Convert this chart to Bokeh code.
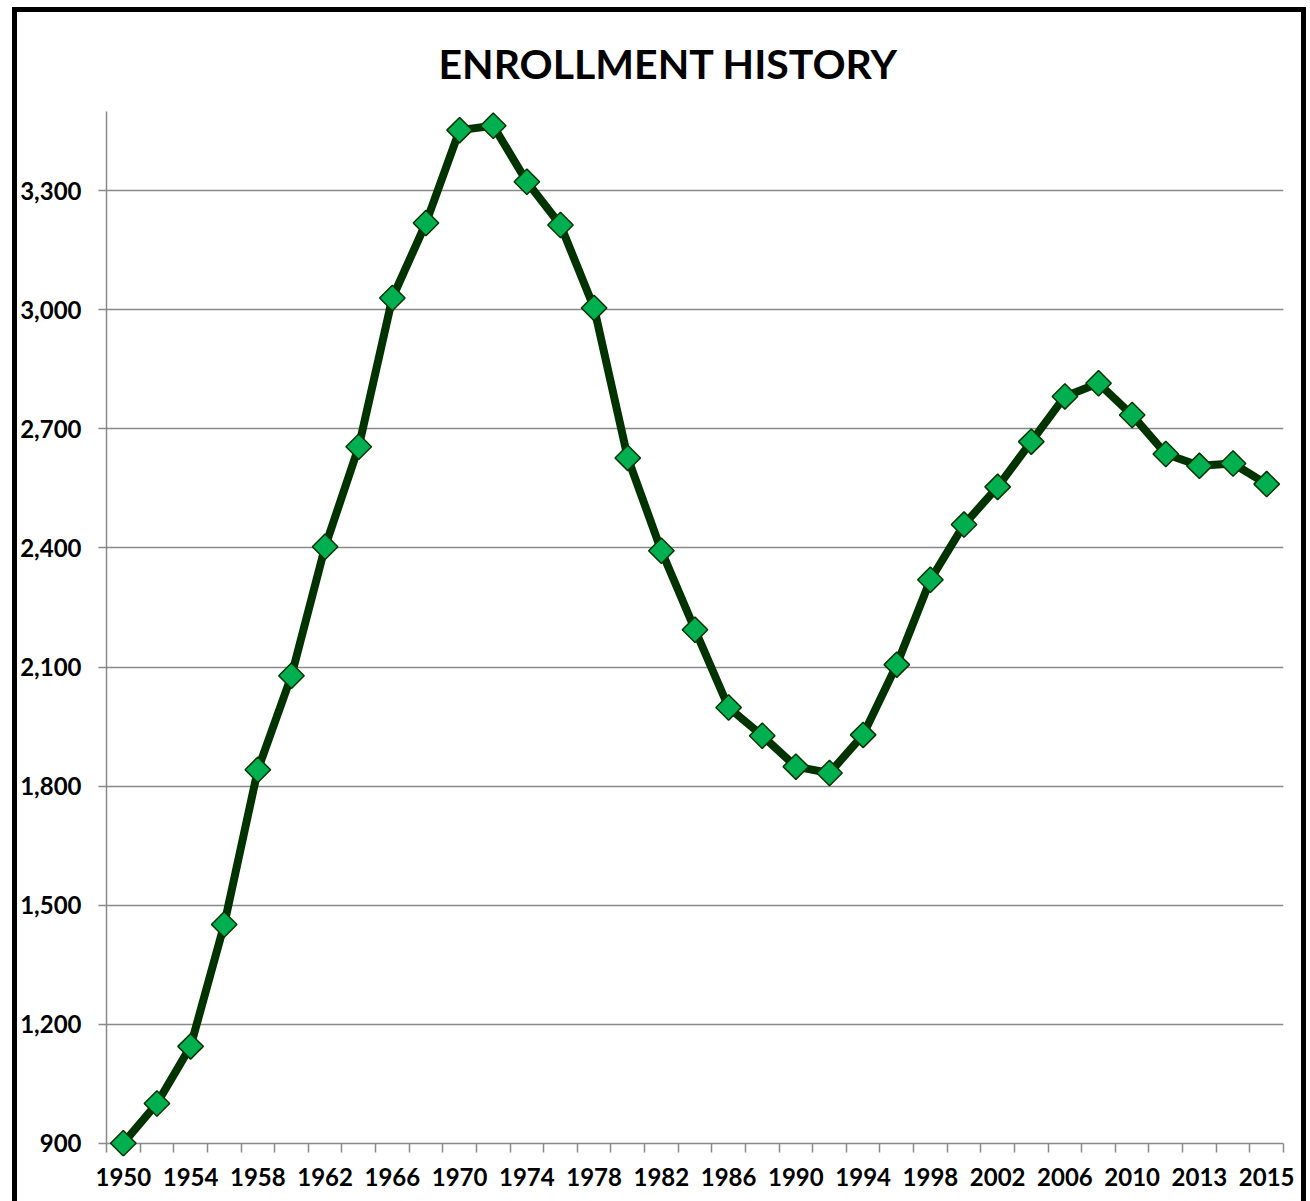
from bokeh.plotting import figure
from bokeh.models import Range1d, FixedTicker, NumeralTickFormatter, Title
from bokeh.embed import file_html
from bokeh.resources import INLINE

# ---- data ----
years = ["1950", "1952", "1954", "1956", "1958", "1960", "1962", "1964", "1966",
         "1968", "1970", "1972", "1974", "1976", "1978", "1980", "1982", "1984",
         "1986", "1988", "1990", "1992", "1994", "1996", "1998", "2000", "2002",
         "2004", "2006", "2008", "2010", "2012", "2013", "2014", "2015"]
enrollment = [900, 1000, 1144, 1451, 1841, 2078, 2403, 2655, 3030,
              3219, 3453, 3464, 3323, 3214, 3005, 2627, 2393, 2194,
              1998, 1927, 1849, 1833, 1929, 2106, 2320, 2459, 2554,
              2668, 2782, 2815, 2735, 2637, 2607, 2613, 2561]
y_ticks = [900, 1200, 1500, 1800, 2100, 2400, 2700, 3000, 3300]
y_axis_min, y_max = 900, 3500

# a little room below the 900 line so the first marker is not cut
y_view_min = 866.5

x_idx = list(range(len(years)))
label_idx = x_idx[::2]
boundaries = [i - 0.5 for i in range(len(years) + 1)]

GRAY = "#898989"
FONT = "Lato"

p = figure(width=1294, height=1194, output_backend="svg", toolbar_location=None,
           x_range=Range1d(-0.5, len(years) - 0.5),
           y_range=Range1d(y_view_min, y_max),
           min_border_left=87, min_border_right=28, min_border_top=98,
           min_border_bottom=50)
p.styles = {"border-left": "5px solid black", "border-top": "5px solid black",
            "border-right": "5px solid black",
            "margin-left": "12px", "margin-top": "7px"}
p.outline_line_color = None
p.background_fill_color = "white"
p.border_fill_color = "white"

p.title = Title(text="ENROLLMENT HISTORY", align="left", offset=332,
                text_font=FONT, text_font_style="bold", text_font_size="41px",
                text_color="black", standoff=48)

# grid (the 900 line doubles as the category axis line)
p.xgrid.visible = False
p.ygrid.ticker = FixedTicker(ticks=y_ticks)
p.ygrid.grid_line_color = GRAY
p.ygrid.grid_line_width = 1.5

# x axis: category axis, tick marks between categories hanging from the 900 line
xa = p.xaxis[0]
xa.ticker = FixedTicker(ticks=label_idx, minor_ticks=boundaries)
xa.major_label_overrides = {i: years[i] for i in label_idx}
xa.major_tick_line_color = None
xa.major_tick_out = 0
xa.major_tick_in = 0
xa.minor_tick_line_color = GRAY
xa.minor_tick_line_width = 1.5
xa.minor_tick_in = 13
xa.minor_tick_out = -4
xa.axis_line_color = None
xa.major_label_standoff = 11

# y axis
ya = p.yaxis[0]
ya.bounds = (y_axis_min, y_max)
ya.ticker = FixedTicker(ticks=y_ticks)
ya.formatter = NumeralTickFormatter(format="0,0")
ya.major_tick_line_color = GRAY
ya.major_tick_line_width = 1.5
ya.major_tick_out = 8
ya.major_tick_in = 0
ya.minor_tick_line_color = None
ya.axis_line_color = GRAY
ya.axis_line_width = 1.5
ya.major_label_standoff = 17

for ax in (xa, ya):
    ax.major_label_text_font = FONT
    ax.major_label_text_font_style = "bold"
    ax.major_label_text_font_size = "24px"
    ax.major_label_text_color = "black"

# series
p.line(x_idx, enrollment, line_color="#003300", line_width=8, line_join="round")
p.scatter(x_idx, enrollment, marker="square", size=18, angle=0.785398,
          fill_color="#00B050", line_color="#003300", line_width=1.5)

open("out.html", "w").write(file_html(p, INLINE))
